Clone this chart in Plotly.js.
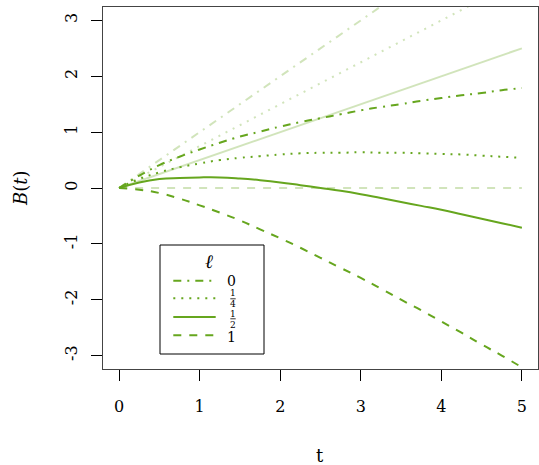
<!DOCTYPE html>
<html>
<head>
<meta charset="utf-8">
<script src="https://cdn.plot.ly/plotly-3.0.1.min.js"></script>
<style>html,body{margin:0;padding:0;background:#fff;}#chart{width:539px;height:465px;}</style>
</head>
<body>
<div id="chart"></div>
<script>
// time grid
const t = [0,0.25,0.5,0.75,1,1.25,1.5,1.75,2,2.25,2.5,2.75,3,3.25,3.5,3.75,4,4.25,4.5,4.75,5];
// B(t) for each ell
const B_l0  = [0,0.22,0.41,0.56,0.69,0.81,0.92,1.01,1.10,1.18,1.25,1.32,1.39,1.45,1.50,1.56,1.61,1.66,1.70,1.75,1.79];
const B_l14 = [0,0.16,0.28,0.37,0.44,0.50,0.54,0.57,0.60,0.62,0.63,0.63,0.64,0.63,0.63,0.62,0.61,0.60,0.58,0.56,0.54];
const B_l12 = [0,0.10,0.16,0.18,0.19,0.19,0.17,0.14,0.10,0.05,0.00,-0.05,-0.11,-0.18,-0.25,-0.32,-0.39,-0.47,-0.55,-0.63,-0.71];
const B_l1  = [0,-0.03,-0.09,-0.19,-0.31,-0.44,-0.58,-0.74,-0.90,-1.07,-1.25,-1.43,-1.61,-1.80,-2.00,-2.19,-2.39,-2.59,-2.80,-3.00,-3.21];
// light reference lines (straight), endpoints at t=0 and t=5
const tLin = [0,5];
const R_l0  = [0,5];
const R_l14 = [0,3.75];
const R_l12 = [0,2.5];
const R_l1  = [0,0];
// labels
const legendTitle = 'ℓ';
const legendNames = ['0','1/4','1/2','1'];
const xTicks = [0,1,2,3,4,5];
const yTicks = [-3,-2,-1,0,1,2,3];
const yTickText = ['-3','-2','-1','0','1','2','3'];

const dark = '#66A61E';
const light = 'rgba(102,166,30,0.3)';
const dashes = ['8px,6px,2px,6px','2px,6px','solid','8px,8px'];

const refs = [R_l0,R_l14,R_l12,R_l1];
const curves = [B_l0,B_l14,B_l12,B_l1];
const traces = [];
refs.forEach((r,i)=>traces.push({x:tLin,y:r,mode:'lines',type:'scatter',showlegend:false,hoverinfo:'skip',
  line:{color:light,width:2,dash:dashes[i]}}));
curves.forEach((c,i)=>traces.push({x:t,y:c,mode:'lines',type:'scatter',name:legendNames[i],showlegend:false,
  line:{color:dark,width:2,dash:dashes[i],shape:'spline',smoothing:1.3}}));

const fontFam = 'DejaVu Serif, serif';

// hand-built legend (box, line samples, stacked-fraction labels) in paper coordinates
const fx = px => (px-103)/435;
const fy = py => (369-py)/362;
const shapes = [
  {type:'rect',xref:'paper',yref:'paper',x0:fx(160),x1:fx(264),y0:fy(354),y1:fy(245),line:{color:'#000',width:1},fillcolor:'#fff',layer:'above'}
];
const rowY = [280.7,298.3,317,335.3];
rowY.forEach((py,i)=>shapes.push({type:'line',xref:'paper',yref:'paper',x0:fx(173.3),x1:fx(215.7),y0:fy(py),y1:fy(py),
  line:{color:dark,width:2,dash:dashes[i]}}));
// fraction bars
shapes.push({type:'line',xref:'paper',yref:'paper',x0:fx(230.3),x1:fx(235.7),y0:fy(298.8),y1:fy(298.8),line:{color:'#000',width:0.8}});
shapes.push({type:'line',xref:'paper',yref:'paper',x0:fx(230.3),x1:fx(235.7),y0:fy(318.8),y1:fy(318.8),line:{color:'#000',width:0.8}});

const ann = (text,px,py,size,extra)=>Object.assign({text:text,xref:'paper',yref:'paper',x:fx(px),y:fy(py),xanchor:'center',yanchor:'middle',showarrow:false,borderpad:0,font:{size:size,family:fontFam,color:'#000'}},extra||{});
const frac = legendNames.map(s=>s.split('/'));
const annotations = [
  ann('t',320,455,18),
  Object.assign(ann('<i>B</i>(<i>t</i>)',20,188,18),{textangle:-90}),
  ann('<i>'+legendTitle+'</i>',209.3,260.7,19),
  ann(frac[0][0],231.7,281,14),
  ann(frac[1][0],233,293.4,9), ann(frac[1][1],233,304.3,9),
  ann(frac[2][0],233,313.6,9), ann(frac[2][1],233,324.5,9),
  ann(frac[3][0],231.7,336.5,14)
];

const layout = {
  width:539,height:465,
  margin:{l:103,r:1,t:7,b:96,pad:0},
  paper_bgcolor:'#fff',plot_bgcolor:'#fff',
  font:{family:fontFam,color:'#000',size:16},
  xaxis:{range:[-0.2,5.2],tickvals:xTicks,ticks:'outside',ticklen:11,tickwidth:1,tickcolor:'#000',
    showline:true,mirror:true,linecolor:'#444',linewidth:1,showgrid:false,zeroline:false,
    tickfont:{size:16,family:fontFam},ticklabelstandoff:12},
  yaxis:{range:[-3.24,3.24],tickvals:yTicks,ticktext:yTickText,tickangle:-90,ticks:'outside',ticklen:11,tickwidth:1,tickcolor:'#000',
    showline:true,mirror:true,linecolor:'#444',linewidth:1,showgrid:false,zeroline:false,
    tickfont:{size:16,family:fontFam},ticklabelstandoff:8},
  showlegend:false,
  shapes:shapes,
  annotations:annotations
};
Plotly.newPlot('chart',traces,layout,{displayModeBar:false,staticPlot:true});
</script>
</body>
</html>
